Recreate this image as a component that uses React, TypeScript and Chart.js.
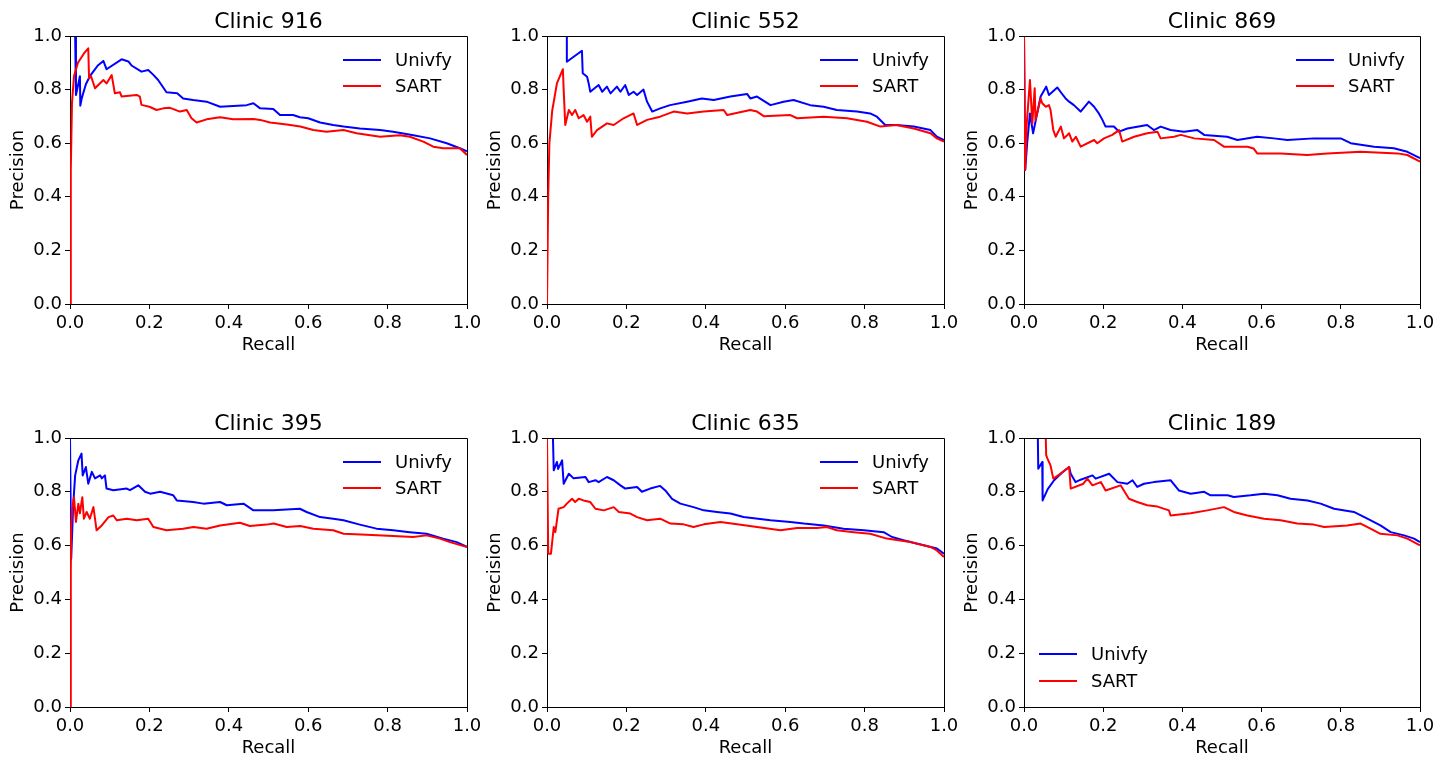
import React, { useEffect, useRef } from "react";
import { Chart, registerables } from "chart.js";

Chart.register(...registerables);

type Pts = [number, number][];

const FONT = "'DejaVu Sans', sans-serif";
const tickStep = 0.2;
const seriesNames = ["Univfy", "SART"];
const seriesColors = ["#0000ff", "#ff0000"];
const xAxisLabel = "Recall";
const yAxisLabel = "Precision";

// ---- Clinic 916 ----
const clinic916Univfy: Pts = [
  [0, 1], [0.013, 1], [0.015, 0.78], [0.025, 0.85], [0.026, 0.74], [0.03, 0.77], [0.04, 0.82], [0.05, 0.85],
  [0.06, 0.87], [0.07, 0.89], [0.084, 0.907], [0.092, 0.876], [0.13, 0.913], [0.147, 0.905], [0.155, 0.89],
  [0.18, 0.867], [0.197, 0.873], [0.21, 0.855], [0.222, 0.836], [0.243, 0.79], [0.27, 0.786], [0.285, 0.767],
  [0.31, 0.761], [0.344, 0.755], [0.378, 0.736], [0.445, 0.742], [0.462, 0.749], [0.479, 0.73], [0.512, 0.728],
  [0.529, 0.705], [0.562, 0.705], [0.579, 0.697], [0.6, 0.693], [0.63, 0.677], [0.663, 0.668], [0.689, 0.662],
  [0.73, 0.655], [0.781, 0.649], [0.814, 0.643], [0.865, 0.63], [0.907, 0.618], [0.949, 0.6], [0.982, 0.581], [1, 0.57],
];
const clinic916Sart: Pts = [
  [0, 0], [0.002, 0.5], [0.005, 0.75], [0.01, 0.85], [0.02, 0.9], [0.035, 0.935], [0.046, 0.954], [0.048, 0.842],
  [0.053, 0.85], [0.063, 0.805], [0.084, 0.836], [0.092, 0.823], [0.105, 0.854], [0.113, 0.786], [0.126, 0.79],
  [0.13, 0.774], [0.168, 0.78], [0.176, 0.774], [0.18, 0.743], [0.2, 0.736], [0.218, 0.724], [0.235, 0.73],
  [0.252, 0.732], [0.277, 0.718], [0.294, 0.724], [0.306, 0.693], [0.319, 0.677], [0.344, 0.689], [0.378, 0.697],
  [0.411, 0.689], [0.462, 0.69], [0.479, 0.687], [0.504, 0.677], [0.546, 0.67], [0.58, 0.662], [0.613, 0.649],
  [0.646, 0.643], [0.689, 0.649], [0.722, 0.637], [0.781, 0.624], [0.831, 0.63], [0.856, 0.624], [0.89, 0.606],
  [0.915, 0.587], [0.94, 0.581], [0.982, 0.581], [1, 0.556],
];

// ---- Clinic 552 ----
const clinic552Univfy: Pts = [
  [0, 1], [0.05, 1], [0.05, 0.904], [0.088, 0.945], [0.09, 0.861], [0.101, 0.848], [0.105, 0.823], [0.109, 0.792],
  [0.13, 0.817], [0.139, 0.792], [0.151, 0.811], [0.16, 0.786], [0.176, 0.811], [0.185, 0.792], [0.197, 0.817],
  [0.206, 0.78], [0.218, 0.792], [0.227, 0.78], [0.243, 0.8], [0.252, 0.755], [0.265, 0.718], [0.285, 0.73],
  [0.31, 0.742], [0.353, 0.755], [0.39, 0.767], [0.42, 0.761], [0.462, 0.774], [0.504, 0.784], [0.512, 0.767],
  [0.529, 0.774], [0.563, 0.742], [0.596, 0.755], [0.621, 0.761], [0.663, 0.742], [0.697, 0.736], [0.73, 0.724],
  [0.781, 0.718], [0.814, 0.711], [0.831, 0.699], [0.852, 0.668], [0.88, 0.668], [0.924, 0.662], [0.966, 0.649],
  [0.982, 0.624], [1, 0.612],
];
const clinic552Sart: Pts = [
  [0, 0], [0.003, 0.4], [0.006, 0.6], [0.013, 0.72], [0.025, 0.823], [0.04, 0.876], [0.042, 0.8], [0.046, 0.668],
  [0.055, 0.724], [0.063, 0.705], [0.071, 0.724], [0.08, 0.693], [0.092, 0.705], [0.101, 0.68], [0.109, 0.699],
  [0.113, 0.624], [0.126, 0.649], [0.151, 0.674], [0.168, 0.668], [0.193, 0.693], [0.218, 0.711], [0.227, 0.668],
  [0.252, 0.687], [0.285, 0.699], [0.319, 0.718], [0.353, 0.711], [0.395, 0.718], [0.445, 0.724], [0.454, 0.705],
  [0.512, 0.724], [0.529, 0.718], [0.546, 0.701], [0.613, 0.705], [0.63, 0.693], [0.697, 0.699], [0.756, 0.693],
  [0.806, 0.68], [0.84, 0.662], [0.88, 0.668], [0.924, 0.655], [0.966, 0.637], [0.982, 0.618], [1, 0.606],
];

// ---- Clinic 869 ----
const clinic869Univfy: Pts = [
  [0, 1], [0.002, 1], [0.003, 0.5], [0.008, 0.6], [0.015, 0.711], [0.023, 0.637], [0.042, 0.774], [0.056, 0.811],
  [0.063, 0.78], [0.084, 0.808], [0.093, 0.79], [0.105, 0.767], [0.114, 0.755], [0.126, 0.742], [0.143, 0.718],
  [0.164, 0.755], [0.177, 0.736], [0.189, 0.711], [0.198, 0.687], [0.206, 0.662], [0.227, 0.662], [0.24, 0.643],
  [0.261, 0.655], [0.311, 0.668], [0.328, 0.649], [0.345, 0.662], [0.37, 0.649], [0.404, 0.643], [0.438, 0.649],
  [0.455, 0.631], [0.513, 0.624], [0.539, 0.612], [0.589, 0.624], [0.631, 0.618], [0.665, 0.612], [0.732, 0.618],
  [0.8, 0.618], [0.825, 0.6], [0.884, 0.587], [0.934, 0.581], [0.968, 0.568], [1, 0.544],
];
const clinic869Sart: Pts = [
  [0, 1], [0.002, 1], [0.003, 0.5], [0.007, 0.674], [0.015, 0.836], [0.021, 0.674], [0.027, 0.805], [0.029, 0.687],
  [0.042, 0.767], [0.046, 0.749], [0.055, 0.736], [0.063, 0.742], [0.067, 0.724], [0.074, 0.649], [0.08, 0.624],
  [0.093, 0.662], [0.101, 0.618], [0.114, 0.637], [0.122, 0.606], [0.131, 0.624], [0.143, 0.587], [0.177, 0.612],
  [0.185, 0.6], [0.202, 0.618], [0.223, 0.631], [0.24, 0.649], [0.248, 0.606], [0.278, 0.624], [0.311, 0.637],
  [0.337, 0.643], [0.345, 0.618], [0.379, 0.624], [0.396, 0.631], [0.43, 0.618], [0.48, 0.612], [0.505, 0.587],
  [0.564, 0.587], [0.58, 0.58], [0.589, 0.562], [0.648, 0.562], [0.715, 0.556], [0.766, 0.562], [0.85, 0.568],
  [0.943, 0.562], [0.968, 0.556], [1, 0.531],
];

// ---- Clinic 395 ----
const clinic395Univfy: Pts = [
  [0, 1], [0.002, 1], [0.003, 0.55], [0.008, 0.75], [0.013, 0.861], [0.021, 0.917], [0.029, 0.942], [0.032, 0.861],
  [0.04, 0.892], [0.046, 0.83], [0.055, 0.874], [0.063, 0.85], [0.076, 0.861], [0.08, 0.85], [0.088, 0.861],
  [0.092, 0.812], [0.109, 0.806], [0.143, 0.812], [0.151, 0.806], [0.172, 0.824], [0.189, 0.8], [0.202, 0.793],
  [0.227, 0.8], [0.26, 0.787], [0.269, 0.768], [0.31, 0.762], [0.336, 0.756], [0.378, 0.762], [0.395, 0.75],
  [0.437, 0.756], [0.462, 0.731], [0.512, 0.731], [0.579, 0.737], [0.596, 0.725], [0.63, 0.706], [0.663, 0.7],
  [0.689, 0.694], [0.73, 0.678], [0.772, 0.663], [0.814, 0.657], [0.856, 0.65], [0.898, 0.644], [0.94, 0.626],
  [0.974, 0.613], [1, 0.595],
];
const clinic395Sart: Pts = [
  [0, 0], [0.002, 0.5], [0.003, 0.675], [0.006, 0.74], [0.01, 0.78], [0.015, 0.688], [0.021, 0.756], [0.025, 0.72],
  [0.031, 0.78], [0.035, 0.7], [0.042, 0.725], [0.05, 0.7], [0.059, 0.743], [0.067, 0.657], [0.08, 0.675],
  [0.097, 0.706], [0.109, 0.712], [0.118, 0.694], [0.143, 0.7], [0.168, 0.694], [0.197, 0.7], [0.21, 0.669],
  [0.243, 0.657], [0.285, 0.663], [0.311, 0.669], [0.344, 0.663], [0.378, 0.675], [0.428, 0.685], [0.453, 0.673],
  [0.495, 0.678], [0.513, 0.682], [0.546, 0.669], [0.58, 0.673], [0.613, 0.663], [0.663, 0.657], [0.689, 0.644],
  [0.747, 0.64], [0.814, 0.636], [0.864, 0.632], [0.898, 0.638], [0.932, 0.626], [0.957, 0.613], [1, 0.595],
];

// ---- Clinic 635 ----
const clinic635Univfy: Pts = [
  [0, 1], [0.015, 1], [0.017, 0.88], [0.025, 0.911], [0.028, 0.885], [0.038, 0.917], [0.042, 0.83], [0.055, 0.867],
  [0.067, 0.85], [0.097, 0.855], [0.105, 0.836], [0.122, 0.843], [0.13, 0.836], [0.151, 0.855], [0.168, 0.843],
  [0.185, 0.824], [0.197, 0.812], [0.227, 0.818], [0.239, 0.8], [0.26, 0.812], [0.285, 0.822], [0.298, 0.805],
  [0.315, 0.774], [0.336, 0.756], [0.369, 0.743], [0.395, 0.731], [0.428, 0.725], [0.462, 0.719], [0.495, 0.706],
  [0.563, 0.694], [0.613, 0.688], [0.647, 0.682], [0.697, 0.675], [0.747, 0.663], [0.798, 0.657], [0.848, 0.65],
  [0.869, 0.632], [0.898, 0.62], [0.949, 0.601], [0.982, 0.589], [1, 0.57],
];
const clinic635Sart: Pts = [
  [0, 1], [0.002, 1], [0.003, 0.57], [0.01, 0.57], [0.017, 0.669], [0.021, 0.65], [0.029, 0.737], [0.042, 0.743],
  [0.05, 0.756], [0.063, 0.774], [0.071, 0.762], [0.08, 0.774], [0.092, 0.768], [0.109, 0.762], [0.122, 0.737],
  [0.143, 0.731], [0.168, 0.743], [0.181, 0.725], [0.21, 0.719], [0.227, 0.706], [0.252, 0.694], [0.285, 0.7],
  [0.311, 0.682], [0.344, 0.679], [0.369, 0.669], [0.395, 0.679], [0.437, 0.688], [0.479, 0.679], [0.529, 0.669],
  [0.588, 0.657], [0.63, 0.665], [0.68, 0.665], [0.705, 0.669], [0.73, 0.657], [0.773, 0.65], [0.814, 0.644],
  [0.856, 0.626], [0.915, 0.613], [0.966, 0.595], [0.982, 0.582], [1, 0.558],
];

// ---- Clinic 189 ----
const clinic189Univfy: Pts = [
  [0, 1], [0.035, 1], [0.036, 0.886], [0.046, 0.911], [0.047, 0.768], [0.06, 0.81], [0.076, 0.843], [0.095, 0.87],
  [0.114, 0.892], [0.118, 0.867], [0.13, 0.836], [0.143, 0.845], [0.173, 0.861], [0.181, 0.849], [0.215, 0.867],
  [0.236, 0.836], [0.261, 0.83], [0.274, 0.843], [0.286, 0.818], [0.303, 0.83], [0.328, 0.836], [0.37, 0.843],
  [0.391, 0.805], [0.421, 0.793], [0.455, 0.8], [0.471, 0.787], [0.514, 0.787], [0.53, 0.781], [0.572, 0.787],
  [0.606, 0.793], [0.64, 0.787], [0.673, 0.774], [0.716, 0.768], [0.749, 0.756], [0.783, 0.737], [0.833, 0.725],
  [0.867, 0.7], [0.9, 0.675], [0.926, 0.65], [0.96, 0.638], [0.985, 0.626], [1, 0.613],
];
const clinic189Sart: Pts = [
  [0, 1], [0.055, 1], [0.056, 0.936], [0.059, 0.924], [0.067, 0.898], [0.074, 0.849], [0.09, 0.865], [0.114, 0.892],
  [0.118, 0.812], [0.15, 0.83], [0.16, 0.849], [0.173, 0.824], [0.194, 0.836], [0.206, 0.805], [0.244, 0.824],
  [0.265, 0.774], [0.286, 0.762], [0.311, 0.75], [0.337, 0.745], [0.366, 0.731], [0.37, 0.712], [0.421, 0.72],
  [0.463, 0.731], [0.505, 0.743], [0.53, 0.725], [0.564, 0.712], [0.606, 0.7], [0.648, 0.694], [0.69, 0.682],
  [0.732, 0.678], [0.758, 0.669], [0.816, 0.675], [0.85, 0.682], [0.875, 0.663], [0.9, 0.644], [0.943, 0.638],
  [0.968, 0.626], [1, 0.601],
];

const clinicTitles = ["Clinic 916", "Clinic 552", "Clinic 869", "Clinic 395", "Clinic 635", "Clinic 189"];
const clinicUnivfy = [clinic916Univfy, clinic552Univfy, clinic869Univfy, clinic395Univfy, clinic635Univfy, clinic189Univfy];
const clinicSart = [clinic916Sart, clinic552Sart, clinic869Sart, clinic395Sart, clinic635Sart, clinic189Sart];
const legendCorner = ["topRight", "topRight", "topRight", "topRight", "topRight", "bottomLeft"];

// axes boxes [left, top, right, bottom]
const colLR = [[70, 467], [547, 944], [1024, 1420]];
const rowTB = [[36, 304], [438, 707]];

type PanelProps = {
  title: string;
  univfy: Pts;
  sart: Pts;
  box: number[];
  corner: string;
};

function Panel({ title, univfy, sart, box, corner }: PanelProps) {
  const ref = useRef<HTMLCanvasElement>(null);
  const [L, T, R, B] = box;
  const padL = 70, padT = 36, padR = 15, padB = 54;
  const w = R - L + padL + padR;
  const h = B - T + padT + padB;

  useEffect(() => {
    const framePlugin = {
      id: "frameTitleLegend",
      afterDraw(chart: any) {
        const { ctx, chartArea } = chart;
        const { left, top, right, bottom } = chartArea;
        ctx.save();
        ctx.strokeStyle = "#000";
        ctx.lineWidth = 1;
        ctx.beginPath();
        ctx.moveTo(left, top + 0.5);
        ctx.lineTo(right + 0.5, top + 0.5);
        ctx.lineTo(right + 0.5, bottom);
        ctx.stroke();
        // title
        ctx.fillStyle = "#000";
        ctx.font = `22px ${FONT}`;
        ctx.textAlign = "center";
        ctx.textBaseline = "middle";
        ctx.fillText(title, (left + right) / 2, top - 14);
        // legend
        ctx.font = `18px ${FONT}`;
        ctx.textAlign = "left";
        const rows = seriesNames.map((name, i) => {
          if (corner === "bottomLeft") {
            return { name, color: seriesColors[i], x: left + 15, y: bottom - 53 + i * 27 };
          }
          return { name, color: seriesColors[i], x: right - 124, y: top + 24 + i * 26 };
        });
        rows.forEach((r) => {
          ctx.strokeStyle = r.color;
          ctx.lineWidth = 2;
          ctx.beginPath();
          ctx.moveTo(r.x, r.y);
          ctx.lineTo(r.x + 38, r.y);
          ctx.stroke();
          ctx.fillStyle = "#000";
          ctx.fillText(r.name, r.x + 52, r.y + 1);
        });
        ctx.restore();
      },
    };

    const tickFont = { family: FONT, size: 18 };
    const chart = new Chart(ref.current as HTMLCanvasElement, {
      type: "line",
      data: {
        datasets: [
          {
            label: seriesNames[1],
            data: sart.map(([x, y]) => ({ x, y })),
            borderColor: seriesColors[1],
            backgroundColor: seriesColors[1],
            borderWidth: 2,
            pointRadius: 0,
            tension: 0,
            fill: false,
            borderJoinStyle: "round",
          },
          {
            label: seriesNames[0],
            data: univfy.map(([x, y]) => ({ x, y })),
            borderColor: seriesColors[0],
            backgroundColor: seriesColors[0],
            borderWidth: 2,
            pointRadius: 0,
            tension: 0,
            fill: false,
            borderJoinStyle: "round",
          },
        ],
      },
      options: {
        animation: false,
        responsive: false,
        devicePixelRatio: 1,
        events: [],
        layout: { padding: { left: 0, top: padT, right: padR, bottom: 0 } },
        plugins: { legend: { display: false }, tooltip: { enabled: false }, title: { display: false } },
        scales: {
          x: {
            type: "linear",
            min: 0,
            max: 1,
            afterFit: (s: any) => {
              s.height = padB;
              s.paddingLeft = 0;
              s.paddingRight = 0;
            },
            ticks: {
              stepSize: tickStep,
              autoSkip: false,
              maxRotation: 0,
              padding: 4,
              color: "#000",
              font: tickFont,
              callback: (v: any) => Number(v).toFixed(1),
            },
            grid: { drawOnChartArea: false, drawTicks: true, tickLength: 5, color: "#000", tickWidth: 1 },
            border: { display: true, color: "#000", width: 1 },
            title: { display: true, text: xAxisLabel, color: "#000", font: tickFont, padding: { top: 0, bottom: 2 } },
          },
          y: {
            type: "linear",
            min: 0,
            max: 1,
            afterFit: (s: any) => {
              s.width = padL;
              s.paddingTop = 0;
              s.paddingBottom = 0;
            },
            ticks: {
              stepSize: tickStep,
              autoSkip: false,
              padding: 3,
              color: "#000",
              font: tickFont,
              callback: (v: any) => Number(v).toFixed(1),
            },
            grid: { drawOnChartArea: false, drawTicks: true, tickLength: 5, color: "#000", tickWidth: 1 },
            border: { display: true, color: "#000", width: 1 },
            title: { display: true, text: yAxisLabel, color: "#000", font: tickFont, padding: { top: 8, bottom: 0 } },
          },
        },
      } as any,
      plugins: [framePlugin],
    });
    return () => chart.destroy();
  }, []);

  return (
    <canvas
      ref={ref}
      width={w}
      height={h}
      style={{ position: "absolute", left: L - padL, top: T - padT, width: w, height: h, display: "block" }}
    />
  );
}

export default function App() {
  return (
    <div
      style={{
        position: "fixed",
        left: 0,
        top: 0,
        width: 1435,
        height: 758,
        background: "#fff",
        overflow: "hidden",
      }}
    >
      {clinicTitles.map((t, i) => {
        const [L, R] = colLR[i % 3];
        const [T, B] = rowTB[Math.floor(i / 3)];
        return (
          <Panel
            key={t}
            title={t}
            univfy={clinicUnivfy[i]}
            sart={clinicSart[i]}
            box={[L, T, R, B]}
            corner={legendCorner[i]}
          />
        );
      })}
    </div>
  );
}
